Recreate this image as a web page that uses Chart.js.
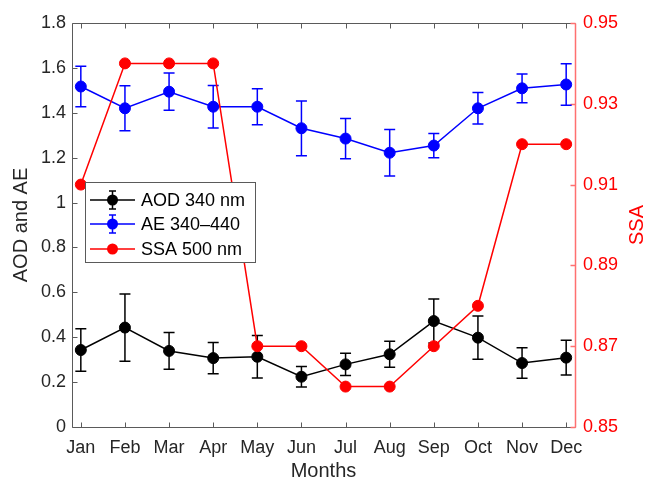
<!doctype html>
<html lang="en">
<head>
<meta charset="utf-8">
<title>AOD, AE and SSA by month</title>
<style>
  body{margin:0;background:#fff;}
  #box{width:646px;height:481px;}
</style>
</head>
<body>
<div id="box"><canvas id="myChart" width="646" height="481"></canvas></div>

<script src="https://cdn.jsdelivr.net/npm/chart.js"></script>
<script>
// data
const months = ['Jan','Feb','Mar','Apr','May','Jun','Jul','Aug','Sep','Oct','Nov','Dec'];
const aod    = [0.343,0.443,0.339,0.307,0.313,0.224,0.279,0.324,0.472,0.398,0.285,0.309];
const aodErr = [0.095,0.150,0.082,0.070,0.095,0.046,0.050,0.058,0.098,0.096,0.068,0.077];
const ae     = [1.517,1.420,1.494,1.427,1.427,1.331,1.285,1.222,1.254,1.420,1.509,1.526];
const aeErr  = [0.090,0.100,0.083,0.095,0.080,0.122,0.090,0.104,0.054,0.070,0.064,0.092];
const ssa    = [0.91,0.94,0.94,0.94,0.87,0.87,0.86,0.86,0.87,0.88,0.92,0.92];
const leftTicks  = [0,0.2,0.4,0.6,0.8,1,1.2,1.4,1.6,1.8];
const rightTicks = [0.85,0.87,0.89,0.91,0.93,0.95];

const FONT = "'Liberation Sans', Arial, sans-serif";
const AXIS = '#5a5a5a';

function pts(arr){ return arr.map(function(v,i){ return {x:i+1, y:v}; }); }

// error bars, drawn under each dataset's line/markers
const errorBars = {
  id:'errorBars',
  beforeDatasetDraw(chart, args){
    const ds = chart.data.datasets[args.index];
    if(!ds.errors) return;
    const ctx = chart.ctx;
    const xs = chart.scales.x, ys = chart.scales[ds.yAxisID];
    ctx.save();
    ctx.strokeStyle = ds.borderColor;
    ctx.lineWidth = 1.5;
    ctx.beginPath();
    ds.data.forEach(function(p,i){
      const x = xs.getPixelForValue(p.x);
      const t = ys.getPixelForValue(p.y + ds.errors[i]);
      const b = ys.getPixelForValue(p.y - ds.errors[i]);
      ctx.moveTo(x,t); ctx.lineTo(x,b);
      ctx.moveTo(x-5.5,t); ctx.lineTo(x+5.5,t);
      ctx.moveTo(x-5.5,b); ctx.lineTo(x+5.5,b);
    });
    ctx.stroke();
    ctx.restore();
  }
};

// matlab style box with inward ticks
const axisBox = {
  id:'axisBox',
  beforeDatasetsDraw(chart){
    const ctx = chart.ctx, a = chart.chartArea;
    const xs = chart.scales.x, yl = chart.scales.y, yr = chart.scales.y2;
    const L = Math.round(a.left)+0.5, R = Math.round(a.right)+0.5;
    const T = Math.round(a.top)+0.5, B = Math.round(a.bottom)+0.5;
    ctx.save();
    ctx.lineWidth = 1;
    ctx.strokeStyle = AXIS;
    ctx.beginPath();
    ctx.moveTo(L,T); ctx.lineTo(L,B); ctx.lineTo(R,B);
    ctx.moveTo(L,T); ctx.lineTo(R,T);
    xs.ticks.forEach(function(t){
      const px = Math.round(xs.getPixelForValue(t.value))+0.5;
      ctx.moveTo(px,B); ctx.lineTo(px,B-5);
      ctx.moveTo(px,T); ctx.lineTo(px,T+5);
    });
    yl.ticks.forEach(function(t){
      const py = Math.round(yl.getPixelForValue(t.value))+0.5;
      ctx.moveTo(L,py); ctx.lineTo(L+5,py);
    });
    ctx.stroke();
    ctx.strokeStyle = '#ff7070';
    ctx.lineWidth = 1.5;
    ctx.beginPath();
    ctx.moveTo(R,T); ctx.lineTo(R,B);
    yr.ticks.forEach(function(t){
      const py = Math.round(yr.getPixelForValue(t.value))+0.5;
      ctx.moveTo(R,py); ctx.lineTo(R-5,py);
    });
    ctx.stroke();
    ctx.restore();
  }
};

// legend box and right axis label
const extras = {
  id:'extras',
  afterDraw(chart){
    const ctx = chart.ctx;
    ctx.save();
    // SSA label reading bottom to top
    ctx.fillStyle = 'rgb(255,0,0)';
    ctx.font = '20px ' + FONT;
    ctx.textAlign = 'center';
    ctx.textBaseline = 'middle';
    ctx.translate(637, (chart.chartArea.top + chart.chartArea.bottom)/2);
    ctx.rotate(-Math.PI/2);
    ctx.fillText('SSA', 0, 0);
    ctx.restore();

    ctx.save();
    ctx.fillStyle = '#fff';
    ctx.fillRect(85.5,182.5,170,80);
    ctx.strokeStyle = AXIS;
    ctx.lineWidth = 1;
    ctx.strokeRect(85.5,182.5,170,80);
    const rows = [
      {label:'AOD 340 nm', color:'rgb(0,0,0)', err:true, y:200},
      {label:'AE 340\u2013440', color:'rgb(0,0,255)', err:true, y:224},
      {label:'SSA 500 nm', color:'rgb(255,0,0)', err:false, y:249}
    ];
    rows.forEach(function(r){
      ctx.strokeStyle = r.color; ctx.fillStyle = r.color; ctx.lineWidth = 1.5;
      ctx.beginPath();
      ctx.moveTo(90,r.y); ctx.lineTo(135,r.y);
      if(r.err){
        ctx.moveTo(112.5,r.y-9); ctx.lineTo(112.5,r.y+9);
        ctx.moveTo(109,r.y-9); ctx.lineTo(116,r.y-9);
        ctx.moveTo(109,r.y+9); ctx.lineTo(116,r.y+9);
      }
      ctx.stroke();
      ctx.beginPath(); ctx.arc(112.5,r.y,5.5,0,Math.PI*2); ctx.fill();
      ctx.fillStyle = '#000';
      ctx.font = '18px ' + FONT;
      ctx.textAlign = 'left'; ctx.textBaseline = 'middle';
      ctx.fillText(r.label, 141, r.y+1);
    });
    ctx.restore();
  }
};

const data = {
  datasets: [
    {label:'AOD 340 nm', data:pts(aod), errors:aodErr, yAxisID:'y', order:2,
     borderColor:'rgb(0,0,0)', backgroundColor:'rgb(0,0,0)'},
    {label:'AE 340-440', data:pts(ae), errors:aeErr, yAxisID:'y', order:1,
     borderColor:'rgb(0,0,255)', backgroundColor:'rgb(0,0,255)'},
    {label:'SSA 500 nm', data:pts(ssa), yAxisID:'y2', order:0,
     borderColor:'rgb(255,0,0)', backgroundColor:'rgb(255,0,0)'}
  ]
};
data.datasets.forEach(function(d){
  d.borderWidth = 1.5;
  d.pointRadius = 5.5;
  d.pointBorderWidth = 1;
  d.pointBorderColor = d.borderColor;
  d.pointBackgroundColor = d.borderColor;
  d.tension = 0;
});

const config = {
  type:'line',
  data:data,
  options:{
    responsive:false,
    animation:false,
    devicePixelRatio:1,
    layout:{padding:{top:23,left:0,right:0,bottom:0}},
    plugins:{legend:{display:false}, tooltip:{enabled:false}},
    scales:{
      x:{
        type:'linear', min:0.8, max:12.2,
        afterBuildTicks: function(s){ s.ticks = months.map(function(m,i){ return {value:i+1}; }); },
        afterFit: function(s){ s.height = 54; },
        grid:{display:false, drawTicks:false},
        border:{display:false},
        ticks:{padding:10, color:'#262626', font:{family:FONT,size:18},
               callback:function(v){ return months[Math.round(v)-1]; }},
        title:{display:true, text:'Months', color:'#262626',
               font:{family:FONT,size:20,lineHeight:1}, padding:{top:0,bottom:0}}
      },
      y:{
        position:'left', min:0, max:1.8,
        afterBuildTicks: function(s){ s.ticks = leftTicks.map(function(v){ return {value:v}; }); },
        afterFit: function(s){ s.width = 72; },
        grid:{display:false, drawTicks:false},
        border:{display:false},
        ticks:{padding:6, color:'#262626', font:{family:FONT,size:18},
               callback:function(v){ return String(Number(v.toFixed(1))); }},
        title:{display:true, text:'AOD and AE', color:'#262626',
               font:{family:FONT,size:20,lineHeight:1}, padding:{top:11,bottom:0}}
      },
      y2:{
        position:'right', min:0.85, max:0.95,
        afterBuildTicks: function(s){ s.ticks = rightTicks.map(function(v){ return {value:v}; }); },
        afterFit: function(s){ s.width = 71; },
        grid:{display:false, drawTicks:false},
        border:{display:false},
        ticks:{padding:8, color:'rgb(255,0,0)', font:{family:FONT,size:18},
               callback:function(v){ return v.toFixed(2); }}
      }
    }
  },
  plugins:[axisBox, errorBars, extras]
};

const myChart = new Chart(document.getElementById('myChart'), config);
</script>
</body>
</html>
